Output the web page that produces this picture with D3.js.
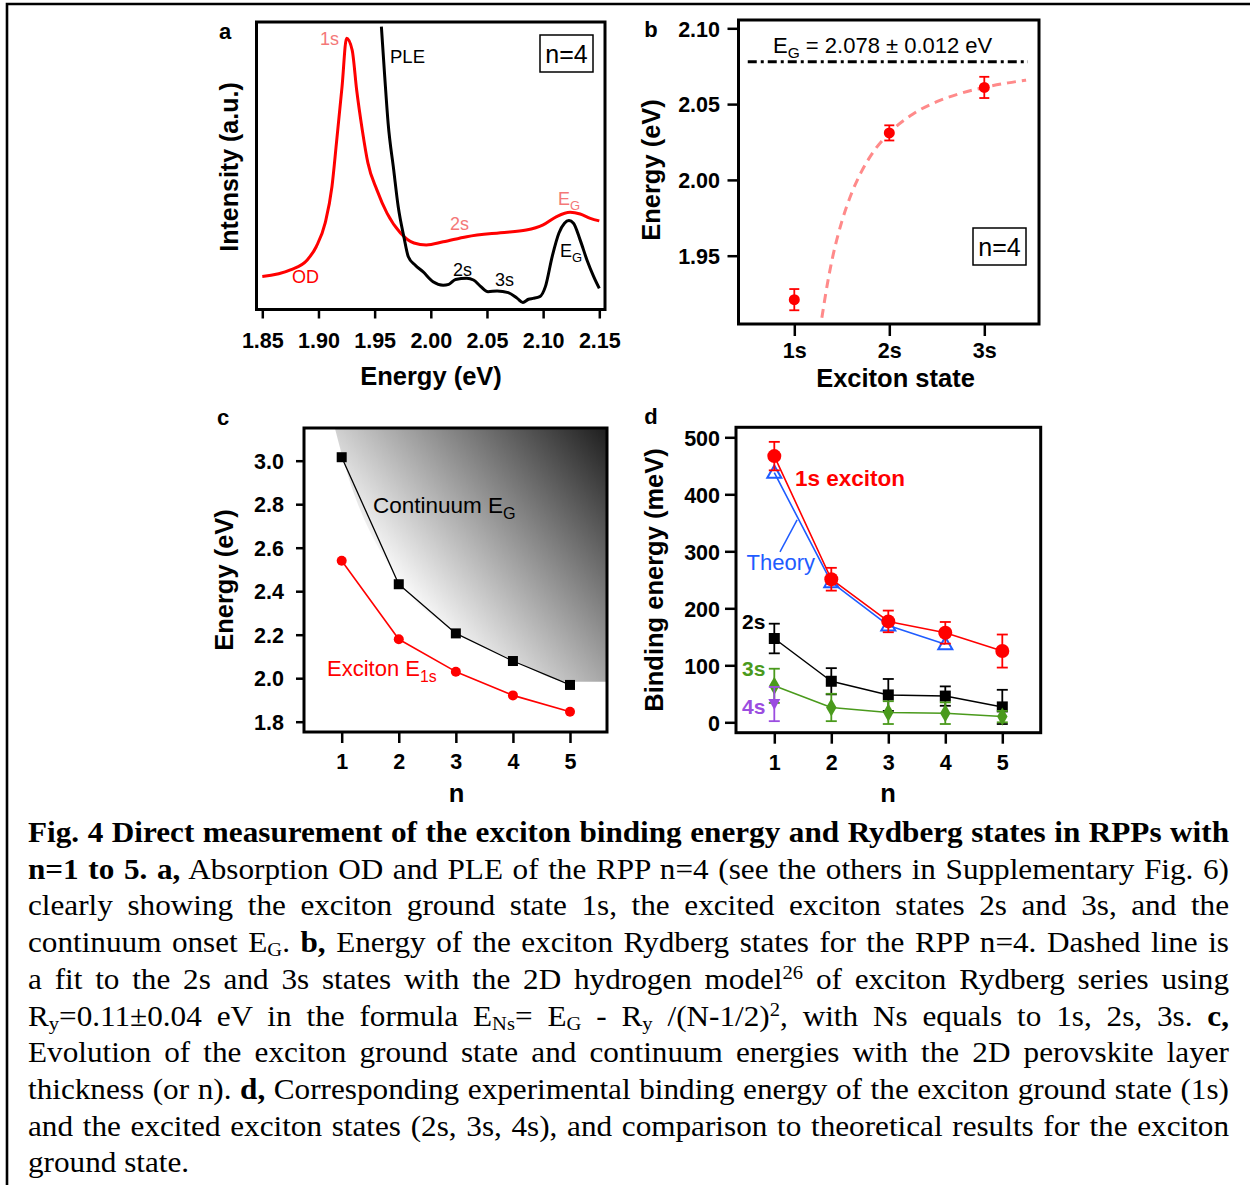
<!DOCTYPE html>
<html><head><meta charset="utf-8">
<script src="https://cdn.jsdelivr.net/npm/d3@7"></script>
<style>body{margin:0;background:#fff} svg{display:block}</style>
</head><body>
<svg id="fig" width="1250" height="1185"></svg>
<script>
// ---------- DATA ----------
// panel a: absorption OD and PLE (arbitrary units)
const aTicks = [1.85, 1.90, 1.95, 2.00, 2.05, 2.10, 2.15];
const odE = [1.850,1.875,1.890,1.898,1.906,1.912,1.916,1.921,1.925,1.930,1.934,1.939,1.944,1.952,1.961,1.973,1.985,1.996,2.011,2.032,2.062,2.085,2.100,2.112,2.124,2.133,2.142,2.150];
const odI = [0.113,0.136,0.171,0.217,0.300,0.426,0.578,0.775,0.943,0.902,0.763,0.624,0.509,0.415,0.334,0.265,0.230,0.223,0.234,0.252,0.266,0.275,0.293,0.322,0.337,0.331,0.316,0.307];
const pleE = [1.956,1.959,1.962,1.967,1.971,1.976,1.980,1.986,1.993,2.002,2.011,2.016,2.022,2.032,2.038,2.044,2.051,2.059,2.069,2.077,2.082,2.087,2.091,2.097,2.102,2.108,2.114,2.119,2.123,2.127,2.133,2.139,2.145,2.150];
const pleI = [0.984,0.809,0.648,0.484,0.356,0.252,0.182,0.153,0.130,0.095,0.083,0.086,0.103,0.107,0.101,0.080,0.060,0.063,0.057,0.037,0.023,0.034,0.037,0.043,0.078,0.182,0.264,0.299,0.308,0.299,0.240,0.171,0.113,0.072];

// panel b: Rydberg states n=4
const bStates = ["1s", "2s", "3s"];
const bEnergy = [1.921, 2.031, 2.061];
const bErr = [0.007, 0.005, 0.007];
const bTicks = [1.95, 2.00, 2.05, 2.10];
const bGap = 2.078;
const bGapSpan = [0.51, 3.46];
const bFitN = [1.29, 1.35, 1.40, 1.50, 1.60, 1.70, 1.80, 2.00, 2.25, 2.50, 2.75, 3.00, 3.25, 3.44];
const bFitE = [1.909, 1.932, 1.948, 1.9725, 1.9907, 2.0046, 2.0155, 2.0310, 2.0435, 2.0516, 2.0571, 2.0610, 2.0640, 2.0658];

// panel c: energies vs n
const cN = [1, 2, 3, 4, 5];
const cCont = [3.016, 2.432, 2.206, 2.079, 1.969];
const cExc = [2.540, 2.179, 2.030, 1.921, 1.846];
const cTicks = [1.8, 2.0, 2.2, 2.4, 2.6, 2.8, 3.0];
const cEdgeN = [0.88, 1.0, 2.0, 3.0, 4.0, 5.0, 5.65];
const cEdgeE = [3.15, 3.03, 2.45, 2.215, 2.085, 1.984, 1.984];

// panel d: binding energies (meV)
const dN = [1, 2, 3, 4, 5];
const d1s = [467, 251, 177, 157, 125];
const d1sErr = [25, 20, 19, 19, 29];
const dTheoryN = [1, 2, 3, 4];
const dTheory = [438, 246, 170, 137];
const d2s = [147, 72, 48, 46, 27];
const d2sErr = [26, 23, 28, 17, 30];
const d3s = [64, 26, 17, 16, 10];
const d3sErr = [30, 24, 20, 19, 10];
const d4sN = [1];
const d4s = [32];
const d4sErr = [30];
const dTicks = [0, 100, 200, 300, 400, 500];

// ---------- DRAW ----------
const SANS = "'Liberation Sans', Arial, sans-serif";
const SERIF = "'Liberation Serif', 'Times New Roman', serif";
const RED = "#ff0000", PINK = "#f47878", BLUE = "#1f5cff", GREEN = "#4a9a1c", PURPLE = "#9b4de0";
const svg = d3.select("#fig");
svg.append("rect").attr("width",1250).attr("height",1185).attr("fill","#fff");

// outer border
svg.append("path").attr("d","M7,1185 V4 H1250").attr("fill","none").attr("stroke","#000").attr("stroke-width",2.6);

function txt(x, y, s, opt = {}) {
  const t = svg.append("text").attr("x", x).attr("y", y)
    .attr("font-family", opt.family || SANS).attr("font-size", opt.size || 22)
    .attr("font-weight", opt.bold ? "bold" : "normal").attr("fill", opt.color || "#000")
    .attr("text-anchor", opt.anchor || "start");
  if (opt.rotate) t.attr("transform", `rotate(-90,${x},${y})`);
  if (opt.sub) {
    t.append("tspan").text(s);
    t.append("tspan").attr("font-size", (opt.size || 22) * 0.72).attr("dy", (opt.size||22)*0.28).text(opt.sub);
  } else t.text(s);
  return t;
}
function frame(x0, y0, x1, y1) {
  svg.append("rect").attr("x", x0).attr("y", y0).attr("width", x1 - x0).attr("height", y1 - y0)
    .attr("fill", "none").attr("stroke", "#000").attr("stroke-width", 3);
}
function xAxis(scale, y0, ticks, fmt, len, baseline) {
  const g = svg.append("g").attr("transform", `translate(0,${y0})`)
    .call(d3.axisBottom(scale).tickValues(ticks).tickFormat(fmt).tickSize(len).tickSizeOuter(0));
  g.select(".domain").remove();
  g.selectAll(".tick line").attr("stroke", "#000").attr("stroke-width", 2.5);
  g.selectAll(".tick text").attr("y", baseline - y0).attr("dy", 0).attr("fill", "#000")
    .attr("font-family", SANS).attr("font-size", 21.5).attr("font-weight", "bold");
}
function yAxis(scale, x0, ticks, fmt, len, right) {
  const g = svg.append("g").attr("transform", `translate(${x0},0)`)
    .call(d3.axisLeft(scale).tickValues(ticks).tickFormat(fmt).tickSize(len).tickSizeOuter(0));
  g.select(".domain").remove();
  g.selectAll(".tick line").attr("stroke", "#000").attr("stroke-width", 2.5);
  g.selectAll(".tick text").attr("x", right - x0).attr("dy", "0.36em").attr("fill", "#000")
    .attr("font-family", SANS).attr("font-size", 21.5).attr("font-weight", "bold");
}
function errBars(xs, ys, es, sx, sy, color, cap, w) {
  const g = svg.append("g").attr("stroke", color).attr("stroke-width", w || 1.8).attr("fill", "none");
  xs.forEach((x, i) => {
    const px = sx(x), lo = sy(ys[i] - es[i]), hi = sy(ys[i] + es[i]);
    g.append("line").attr("x1", px).attr("x2", px).attr("y1", lo).attr("y2", hi);
    g.append("line").attr("x1", px - cap).attr("x2", px + cap).attr("y1", lo).attr("y2", lo);
    g.append("line").attr("x1", px - cap).attr("x2", px + cap).attr("y1", hi).attr("y2", hi);
  });
}
function polyline(xs, ys, sx, sy, color, w, curve) {
  const line = d3.line().x(d => sx(d[0])).y(d => sy(d[1])).curve(curve || d3.curveLinear);
  return svg.append("path").attr("d", line(xs.map((x, i) => [x, ys[i]])))
    .attr("fill", "none").attr("stroke", color).attr("stroke-width", w).attr("stroke-linejoin", "round");
}

// ===== Panel a =====
const xA = d3.scaleLinear().domain([1.85, 2.15]).range([262.3, 599.3]);
const yA = d3.scaleLinear().domain([0, 1]).range([309, 22]);
svg.append("clipPath").attr("id", "clipA").append("rect").attr("x", 256.5).attr("y", 22).attr("width", 348.5).attr("height", 287.5);
polyline(odE, odI, xA, yA, RED, 3, d3.curveMonotoneX).attr("clip-path", "url(#clipA)");
polyline(pleE, pleI, xA, yA, "#000", 3, d3.curveMonotoneX).attr("clip-path", "url(#clipA)");
frame(256.5, 22, 605, 309.5);
xAxis(xA, 309.5, aTicks, d3.format(".2f"), 9, 348);
txt(225, 39, "a", {bold: true, size: 22, anchor: "middle"});
txt(238, 167, "Intensity (a.u.)", {bold: true, size: 25, anchor: "middle", rotate: true});
txt(431, 385, "Energy (eV)", {bold: true, size: 25.5, anchor: "middle"});
txt(320, 45, "1s", {size: 18, color: PINK});
txt(390, 63, "PLE", {size: 18.5});
txt(450, 230, "2s", {size: 18, color: PINK});
txt(558, 205, "E", {size: 18, color: PINK, sub: "G"});
txt(292, 283, "OD", {size: 18, color: RED});
txt(453, 276, "2s", {size: 18});
txt(495, 286, "3s", {size: 18});
txt(560, 257, "E", {size: 18, sub: "G"});
svg.append("rect").attr("x", 540).attr("y", 35).attr("width", 53).attr("height", 37).attr("fill", "none").attr("stroke", "#000").attr("stroke-width", 1.5);
txt(566.5, 63, "n=4", {size: 25, anchor: "middle"});

// ===== Panel b =====
const xB = d3.scaleLinear().domain([1, 3]).range([794.3, 984.3]);
const yB = d3.scaleLinear().domain([1.95, 2.10]).range([255.7, 28.3]);
svg.append("clipPath").attr("id", "clipB").append("rect").attr("x", 738.5).attr("y", 20).attr("width", 300.5).attr("height", 304);
svg.append("line").attr("x1", xB(bGapSpan[0])).attr("x2", xB(bGapSpan[1])).attr("y1", yB(bGap)).attr("y2", yB(bGap))
  .attr("stroke", "#000").attr("stroke-width", 3).attr("stroke-dasharray", "9,4,3,4");
polyline(bFitN, bFitE, xB, yB, "#ff8a8a", 3, d3.curveMonotoneX).attr("stroke-dasharray", "9,6").attr("clip-path", "url(#clipB)");
errBars([1, 2, 3], bEnergy, bErr, xB, yB, RED, 5, 1.8);
svg.append("g").selectAll("circle").data(bEnergy).join("circle")
  .attr("cx", (d, i) => xB(i + 1)).attr("cy", d => yB(d)).attr("r", 5.5).attr("fill", RED);
frame(738.5, 20, 1039, 324);
xAxis(xB, 324, [1, 2, 3], d => bStates[d - 1], 12, 358);
yAxis(yB, 738.5, bTicks, d3.format(".2f"), 11, 720);
txt(651, 37, "b", {bold: true, size: 22, anchor: "middle"});
txt(660, 170, "Energy (eV)", {bold: true, size: 25.5, anchor: "middle", rotate: true});
txt(895.5, 387, "Exciton state", {bold: true, size: 25.5, anchor: "middle"});
const eg = svg.append("text").attr("x", 773).attr("y", 52.5).attr("font-family", SANS).attr("font-size", 22);
eg.append("tspan").text("E");
eg.append("tspan").attr("font-size", 15.5).attr("dy", 5).text("G");
eg.append("tspan").attr("dy", -5).text(" = 2.078 ± 0.012 eV");
svg.append("rect").attr("x", 973).attr("y", 228).attr("width", 53).attr("height", 37).attr("fill", "none").attr("stroke", "#000").attr("stroke-width", 1.5);
txt(999.5, 256, "n=4", {size: 25, anchor: "middle"});

// ===== Panel c =====
const xC = d3.scaleLinear().domain([1, 5]).range([341.7, 570]);
const yC = d3.scaleLinear().domain([1.8, 3.0]).range([721.7, 460.7]);
const defs = svg.append("defs");
const grad = defs.append("linearGradient").attr("id", "contGrad").attr("gradientUnits", "userSpaceOnUse")
  .attr("x1", 420).attr("y1", 620).attr("x2", 631).attr("y2", 447);
grad.append("stop").attr("offset", 0).attr("stop-color", "#ffffff");
grad.append("stop").attr("offset", 1).attr("stop-color", "#181818");
svg.append("clipPath").attr("id", "clipC").append("rect").attr("x", 304).attr("y", 428).attr("width", 303).attr("height", 304);
const edge = d3.line().x(d => xC(d[0])).y(d => yC(d[1])).curve(d3.curveMonotoneX)(cEdgeN.map((n, i) => [n, cEdgeE[i]]));
svg.append("path").attr("d", edge + `L${xC(cEdgeN[cEdgeN.length-1])},${yC(3.3)}L${xC(cEdgeN[0])},${yC(3.3)}Z`)
  .attr("fill", "url(#contGrad)").attr("clip-path", "url(#clipC)");
polyline(cN, cCont, xC, yC, "#000", 1.3);
polyline(cN, cExc, xC, yC, RED, 1.6);
svg.append("g").selectAll("rect").data(cCont).join("rect")
  .attr("x", (d, i) => xC(cN[i]) - 5).attr("y", d => yC(d) - 5).attr("width", 10).attr("height", 10).attr("fill", "#000");
svg.append("g").selectAll("circle").data(cExc).join("circle")
  .attr("cx", (d, i) => xC(cN[i])).attr("cy", d => yC(d)).attr("r", 5).attr("fill", RED);
frame(304, 428, 607, 732);
xAxis(xC, 732, cN, d3.format("d"), 11, 769);
yAxis(yC, 304, cTicks, d3.format(".1f"), 8, 284);
txt(223, 425, "c", {bold: true, size: 22, anchor: "middle"});
txt(233, 580, "Energy (eV)", {bold: true, size: 25.5, anchor: "middle", rotate: true});
txt(456.5, 802, "n", {bold: true, size: 25.5, anchor: "middle"});
txt(373, 513, "Continuum E", {size: 22.5, sub: "G"});
txt(327, 676, "Exciton E", {size: 22, color: RED, sub: "1s"});

// ===== Panel d =====
const xD = d3.scaleLinear().domain([1, 5]).range([774.3, 1002.3]);
const yD = d3.scaleLinear().domain([0, 500]).range([722.3, 437.3]);
// 2s
polyline(dN, d2s, xD, yD, "#000", 1.5);
errBars(dN, d2s, d2sErr, xD, yD, "#000", 5.5, 1.8);
svg.append("g").selectAll("rect").data(d2s).join("rect")
  .attr("x", (d, i) => xD(dN[i]) - 5.5).attr("y", d => yD(d) - 5.5).attr("width", 11).attr("height", 11).attr("fill", "#000");
// 3s
polyline(dN, d3s, xD, yD, GREEN, 1.5);
errBars(dN, d3s, d3sErr, xD, yD, GREEN, 5.5, 1.8);
svg.append("g").selectAll("path").data(d3s).join("path")
  .attr("d", d3.symbol(d3.symbolDiamond, 95)).attr("transform", (d, i) => `translate(${xD(dN[i])},${yD(d)})`).attr("fill", GREEN);
// 4s
errBars(d4sN, d4s, d4sErr, xD, yD, PURPLE, 5.5, 1.8);
svg.append("g").selectAll("path").data(d4s).join("path")
  .attr("d", "M-6,-5 L6,-5 L0,6 Z").attr("transform", (d, i) => `translate(${xD(d4sN[i])},${yD(d)})`).attr("fill", PURPLE);
// theory
polyline(dTheoryN, dTheory, xD, yD, BLUE, 1.6);
svg.append("g").selectAll("path").data(dTheory).join("path")
  .attr("d", d3.symbol(d3.symbolTriangle, 85)).attr("transform", (d, i) => `translate(${xD(dTheoryN[i])},${yD(d) + 1})`)
  .attr("fill", "none").attr("stroke", BLUE).attr("stroke-width", 2);
// 1s exciton
polyline(dN, d1s, xD, yD, RED, 1.6);
errBars(dN, d1s, d1sErr, xD, yD, RED, 5.5, 1.8);
svg.append("g").selectAll("circle").data(d1s).join("circle")
  .attr("cx", (d, i) => xD(dN[i])).attr("cy", d => yD(d)).attr("r", 7).attr("fill", RED);
// theory pointer
svg.append("line").attr("x1", xD(1.1)).attr("y1", yD(299)).attr("x2", xD(1.4)).attr("y2", yD(355))
  .attr("stroke", BLUE).attr("stroke-width", 1.5);
frame(736, 427.3, 1040.7, 732.7);
xAxis(xD, 732.7, dN, d3.format("d"), 11, 770);
yAxis(yD, 736, dTicks, d3.format("d"), 11, 720);
txt(651, 424, "d", {bold: true, size: 22, anchor: "middle"});
txt(663, 580, "Binding energy (meV)", {bold: true, size: 25.5, anchor: "middle", rotate: true});
txt(888, 802, "n", {bold: true, size: 25.5, anchor: "middle"});
txt(795, 486, "1s exciton", {bold: true, size: 22.5, color: RED});
txt(746.5, 570, "Theory", {size: 22, color: BLUE});
txt(742, 629, "2s", {bold: true, size: 21});
txt(742, 676, "3s", {bold: true, size: 21, color: GREEN});
txt(742, 714, "4s", {bold: true, size: 21, color: PURPLE});

// ===== Caption =====
const capLines = [
  [["b", "Fig. 4 Direct measurement of the exciton binding energy and Rydberg states in RPPs with"]],
  [["b", "n=1 to 5. a,"], ["r", " Absorption OD and PLE of the RPP n=4 (see the others in Supplementary Fig. 6)"]],
  [["r", "clearly showing the exciton ground state 1s, the excited exciton states 2s and 3s, and the"]],
  [["r", "continuum onset E"], ["sub", "G"], ["r", ". "], ["b", "b,"], ["r", " Energy of the exciton Rydberg states for the RPP n=4. Dashed line is"]],
  [["r", "a fit to the 2s and 3s states with the 2D hydrogen model"], ["sup", "26"], ["r", " of exciton Rydberg series using"]],
  [["r", "R"], ["sub", "y"], ["r", "=0.11±0.04 eV in the formula E"], ["sub", "Ns"], ["r", "= E"], ["sub", "G"], ["r", " - R"], ["sub", "y"], ["r", " /(N-1/2)"], ["sup", "2"], ["r", ", with Ns equals to 1s, 2s, 3s. "], ["b", "c,"]],
  [["r", "Evolution of the exciton ground state and continuum energies with the 2D perovskite layer"]],
  [["r", "thickness (or n). "], ["b", "d,"], ["r", " Corresponding experimental binding energy of the exciton ground state (1s)"]],
  [["r", "and the excited exciton states (2s, 3s, 4s), and comparison to theoretical results for the exciton"]],
  [["r", "ground state."]]
];
const capX = 28, capW = 1201, capY0 = 842, capDY = 36.7, capFS = 30, capSX = 1.04;
capLines.forEach((segs, li) => {
  const t = svg.append("text").attr("x", 0).attr("y", 0)
    .attr("transform", `translate(${capX},${capY0 + li * capDY}) scale(${capSX},1)`)
    .attr("font-family", SERIF).attr("font-size", capFS).attr("fill", "#000");
  let off = 0;
  segs.forEach(([type, s]) => {
    const target = type === "sub" ? 4 : type === "sup" ? -10 : 0;
    const ts = t.append("tspan").text(s).attr("dy", target - off);
    off = target;
    if (type === "b") ts.attr("font-weight", "bold");
    if (type === "sub" || type === "sup") ts.attr("font-size", capFS * 0.66);
  });
  if (li < capLines.length - 1) {
    const full = segs.map(s => s[1]).join("");
    const spaces = (full.match(/ /g) || []).length;
    const natural = t.node().getComputedTextLength();
    if (spaces > 0) t.attr("word-spacing", (capW / capSX - natural) / spaces);
  }
});
</script>
</body></html>
